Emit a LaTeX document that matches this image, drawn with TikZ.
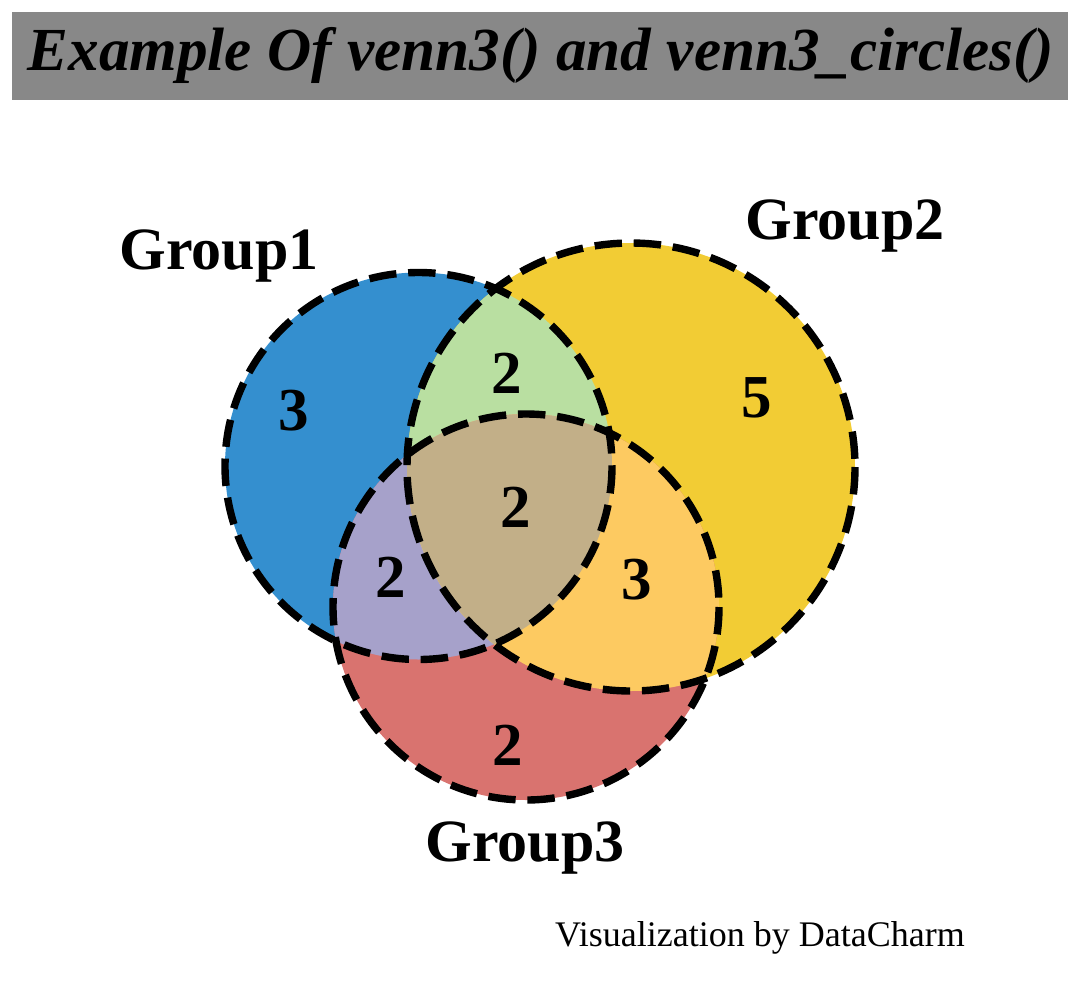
\documentclass[tikz,border=0pt]{standalone}
\usepackage{fontspec}
\setmainfont{Liberation Serif}
\definecolor{onlyA}{HTML}{348FCF}
\definecolor{onlyB}{HTML}{F2CC34}
\definecolor{onlyC}{HTML}{D9736F}
\definecolor{pairAB}{HTML}{B9DFA1}
\definecolor{pairAC}{HTML}{A6A1CA}
\definecolor{pairBC}{HTML}{FDCA61}
\definecolor{allABC}{HTML}{C2AF88}
\definecolor{titlegray}{HTML}{888888}
\begin{document}
\begin{tikzpicture}[x=0.5pt,y=-0.5pt,
  ring/.style={line width=3.7pt,dash pattern=on 13.7pt off 5.9pt},
  count/.style={font=\fontsize{30.5}{32}\selectfont\bfseries},
  grouplab/.style={font=\fontsize{30}{32}\selectfont\bfseries}]
\useasboundingbox (0,0) rectangle (1080,985);
% title bar
\fill[titlegray] (12,12) rectangle (1068,100);
\node (title) at (541,55) {\fontsize{30.6}{32}\selectfont\bfseries\itshape Example Of venn3() and venn3\_circles()};
% circle centres
\coordinate (cA) at (418.5,466);
\coordinate (cB) at (631,467);
\coordinate (cC) at (526,607);
% single sets
\fill[onlyA] (cA) circle[radius=193.5];
\fill[onlyB] (cB) circle[radius=224];
\fill[onlyC] (cC) circle[radius=193];
% pairs
\begin{scope}
  \clip (cA) circle[radius=193.5];
  \fill[pairAB] (cB) circle[radius=224];
  \fill[pairAC] (cC) circle[radius=193];
\end{scope}
\begin{scope}
  \clip (cB) circle[radius=224];
  \fill[pairBC] (cC) circle[radius=193];
\end{scope}
% all three
\begin{scope}
  \clip (cA) circle[radius=193.5];
  \clip (cB) circle[radius=224];
  \fill[allABC] (cC) circle[radius=193];
\end{scope}
% dashed outlines
\draw[ring] (cA) circle[radius=193.5];
\draw[ring] (cB) circle[radius=224];
\draw[ring] (cC) circle[radius=193];
% counts
\node[count] (nA) at (294,411) {3};
\node[count] (nB) at (757,398) {5};
\node[count] (nC) at (508,745) {2};
\node[count] (nAB) at (507,373) {2};
\node[count] (nAC) at (391,577) {2};
\node[count] (nBC) at (637,580) {3};
\node[count] (nABC) at (516,507) {2};
% group names
\node[grouplab] (gA) at (219,256) {Group1};
\node[grouplab] (gB) at (845,226) {Group2};
\node[grouplab] (gC) at (525,848) {Group3};
\node (credit) at (760,938) {\fontsize{18}{20}\selectfont Visualization by DataCharm};
\end{tikzpicture}
\end{document}
